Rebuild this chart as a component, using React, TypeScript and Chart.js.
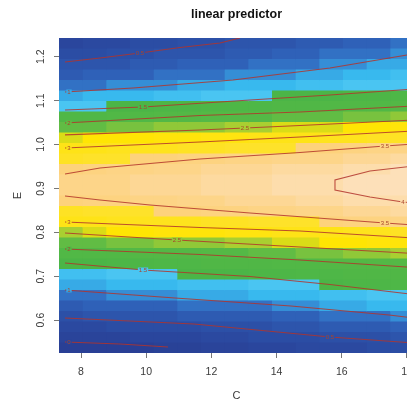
import React, { useEffect, useRef } from "react";
import { Chart, registerables } from "chart.js";
Chart.register(...registerables);

const TITLE = "linear predictor";
const X_LABEL = "C";
const Y_LABEL = "E";
const X_TICKS = [8, 10, 12, 14, 16, 18];
const Y_TICKS = [0.6, 0.7, 0.8, 0.9, 1.0, 1.1, 1.2];
const C_RANGE = [7.325, 18.215];
const E_RANGE = [0.525, 1.2426];

// fitted values: one array per C column (left to right), rows from high E (top) to low E (bottom)
const Z_COLUMNS = [
  [0.21,0.38,0.55,0.72,0.89,1.11,1.40,1.76,2.18,2.61,3.01,3.22,3.43,3.67,3.65,3.41,3.21,3.00,2.53,2.20,1.85,1.49,1.29,1.10,0.91,0.72,0.53,0.32,0.10,-0.12],
  [0.27,0.43,0.60,0.76,0.92,1.15,1.44,1.82,2.23,2.65,3.04,3.26,3.49,3.71,3.69,3.46,3.25,3.03,2.59,2.24,1.89,1.54,1.33,1.13,0.94,0.75,0.56,0.34,0.12,-0.10],
  [0.32,0.48,0.64,0.79,0.95,1.19,1.47,1.87,2.28,2.68,3.06,3.30,3.55,3.74,3.73,3.51,3.28,3.05,2.65,2.27,1.93,1.59,1.36,1.16,0.97,0.77,0.58,0.36,0.14,-0.08],
  [0.37,0.52,0.68,0.83,0.98,1.23,1.52,1.93,2.32,2.73,3.10,3.36,3.61,3.78,3.77,3.58,3.33,3.08,2.70,2.31,1.96,1.64,1.39,1.20,1.00,0.80,0.60,0.39,0.17,-0.06],
  [0.41,0.56,0.71,0.86,1.01,1.27,1.57,1.98,2.36,2.77,3.13,3.41,3.67,3.81,3.80,3.64,3.37,3.10,2.75,2.35,1.99,1.68,1.42,1.23,1.03,0.83,0.62,0.41,0.19,-0.04],
  [0.46,0.60,0.75,0.89,1.06,1.31,1.62,2.03,2.40,2.82,3.17,3.47,3.71,3.84,3.83,3.68,3.42,3.14,2.79,2.40,2.03,1.72,1.46,1.26,1.06,0.86,0.65,0.44,0.23,0.01],
  [0.50,0.64,0.78,0.92,1.10,1.35,1.67,2.07,2.43,2.86,3.21,3.52,3.75,3.86,3.85,3.72,3.47,3.17,2.83,2.44,2.06,1.76,1.49,1.29,1.09,0.89,0.68,0.47,0.27,0.06],
  [0.55,0.69,0.82,0.96,1.15,1.39,1.71,2.10,2.47,2.91,3.25,3.56,3.79,3.89,3.88,3.76,3.52,3.21,2.87,2.49,2.11,1.80,1.54,1.32,1.12,0.92,0.71,0.51,0.31,0.11],
  [0.60,0.73,0.86,0.99,1.20,1.42,1.74,2.13,2.50,2.96,3.29,3.60,3.82,3.92,3.91,3.80,3.57,3.25,2.91,2.54,2.15,1.84,1.58,1.35,1.15,0.94,0.74,0.54,0.35,0.16],
  [0.64,0.77,0.90,1.04,1.24,1.45,1.78,2.16,2.55,3.00,3.34,3.65,3.86,3.96,3.95,3.84,3.62,3.30,2.95,2.59,2.21,1.88,1.63,1.40,1.19,0.98,0.78,0.58,0.39,0.21],
  [0.68,0.81,0.93,1.09,1.28,1.48,1.82,2.19,2.59,3.04,3.38,3.69,3.89,3.99,3.98,3.88,3.66,3.34,2.99,2.64,2.26,1.91,1.67,1.44,1.23,1.02,0.81,0.61,0.42,0.25],
  [0.73,0.85,0.97,1.14,1.32,1.53,1.86,2.23,2.64,3.08,3.44,3.73,3.93,4.02,4.02,3.92,3.71,3.40,3.03,2.68,2.31,1.95,1.72,1.50,1.28,1.07,0.85,0.65,0.46,0.29],
  [0.77,0.89,1.01,1.19,1.36,1.57,1.90,2.27,2.69,3.12,3.49,3.77,3.96,4.05,4.05,3.95,3.75,3.45,3.07,2.72,2.35,1.98,1.76,1.55,1.33,1.11,0.89,0.69,0.49,0.33],
  [0.81,0.93,1.07,1.23,1.40,1.62,1.94,2.32,2.74,3.17,3.55,3.82,4.01,4.10,4.10,4.00,3.80,3.51,3.13,2.77,2.41,2.03,1.80,1.60,1.39,1.17,0.94,0.74,0.54,0.37],
  [0.85,0.97,1.12,1.27,1.43,1.67,1.98,2.36,2.79,3.22,3.60,3.87,4.05,4.14,4.14,4.04,3.85,3.57,3.18,2.81,2.46,2.08,1.84,1.65,1.44,1.22,0.99,0.79,0.58,0.41],
];

// contour lines (C, E points), their labels, and the point where each label sits
const CONTOUR_LABELS = ["0.5", "1", "1.5", "2", "2.5", "3", "3.5", "4", "3.5", "3", "2.5", "2", "1.5", "1", "0.5", "0"];
const CONTOUR_C = [
  [7.509, 8.583, 9.810, 11.037, 12.264, 12.877],
  [7.509, 9.595, 12.663, 15.638, 18.0, 18.215],
  [7.509, 9.902, 13.184, 15.638, 18.215],
  [7.509, 11.650, 14.718, 18.215],
  [7.509, 11.650, 13.031, 14.718, 18.215],
  [7.509, 11.650, 14.718, 18.215],
  [7.509, 8.583, 11.650, 14.718, 17.325, 18.215],
  [18.215, 16.865, 15.791, 15.791, 16.865, 17.877, 18.215],
  [7.509, 8.583, 10.117, 13.184, 17.325, 18.215],
  [7.509, 11.650, 14.718, 18.215],
  [7.509, 10.945, 14.718, 18.215],
  [7.509, 11.650, 14.718, 18.215],
  [7.509, 9.902, 13.184, 15.638, 18.215],
  [7.509, 10.883, 14.442, 17.448, 18.215],
  [7.509, 11.466, 15.638, 18.215],
  [7.509, 9.196, 10.669],
];
const CONTOUR_E = [
  [1.1879, 1.1970, 1.2084, 1.2210, 1.2312, 1.2426],
  [1.1196, 1.1287, 1.1469, 1.1743, 1.2039, 1.2062],
  [1.0786, 1.0854, 1.1014, 1.1128, 1.1264],
  [1.0490, 1.0661, 1.0740, 1.0877],
  [1.0219, 1.0330, 1.0376, 1.0433, 1.0558],
  [0.9920, 1.0057, 1.0171, 1.0308],
  [0.9328, 0.9465, 0.9670, 0.9818, 0.9966, 1.0011],
  [0.9510, 0.9396, 0.9191, 0.8963, 0.8804, 0.8690, 0.8667],
  [0.8827, 0.8736, 0.8622, 0.8440, 0.8212, 0.8167],
  [0.8235, 0.8109, 0.8030, 0.7870],
  [0.7984, 0.7825, 0.7665, 0.7517],
  [0.7620, 0.7494, 0.7369, 0.7198],
  [0.7301, 0.7141, 0.6993, 0.6811, 0.6583],
  [0.6686, 0.6503, 0.6321, 0.6116, 0.6048],
  [0.6048, 0.5911, 0.5615, 0.5478],
  [0.5501, 0.5456, 0.5387],
];
const CONTOUR_LABEL_AT = [2, 0, 1, 0, 2, 0, 4, 5, 4, 0, 1, 0, 1, 0, 2, 0];

const COLOR_STOPS: [number, string][] = [
  [-0.3, "#283b8f"],
  [0.2, "#2a469d"],
  [0.55, "#2c52a9"],
  [0.8, "#2f61b8"],
  [0.95, "#3479ca"],
  [1.05, "#36a3e2"],
  [1.2, "#38b9ee"],
  [1.42, "#4cc6f2"],
  [1.421, "#4ab547"],
  [2.15, "#55b946"],
  [2.3, "#78c23f"],
  [2.55, "#b5d22e"],
  [2.65, "#ffe500"],
  [3.3, "#fee22a"],
  [3.35, "#fdd27a"],
  [3.7, "#fdd589"],
  [3.95, "#fddba6"],
  [4.15, "#fde2c0"],
];

const FONT = "'Liberation Sans', Arial, Helvetica, sans-serif";

function hexToRgb(h: string) {
  const n = parseInt(h.slice(1), 16);
  return [(n >> 16) & 255, (n >> 8) & 255, n & 255];
}

function colorFor(v: number) {
  const q = Math.round(v * 10) / 10;
  if (q <= COLOR_STOPS[0][0]) return COLOR_STOPS[0][1];
  for (let k = 1; k < COLOR_STOPS.length; k++) {
    const [v1, c1] = COLOR_STOPS[k];
    if (q <= v1) {
      const [v0, c0] = COLOR_STOPS[k - 1];
      const t = v1 === v0 ? 1 : (q - v0) / (v1 - v0);
      const a = hexToRgb(c0), b = hexToRgb(c1);
      const r = a.map((x, i) => Math.round(x + (b[i] - x) * t));
      return `rgb(${r[0]},${r[1]},${r[2]})`;
    }
  }
  return COLOR_STOPS[COLOR_STOPS.length - 1][1];
}

function zAt(c: number, e: number) {
  const nCol = Z_COLUMNS.length, nRow = Z_COLUMNS[0].length;
  const dc = (C_RANGE[1] - C_RANGE[0]) / nCol;
  const de = (E_RANGE[1] - E_RANGE[0]) / nRow;
  const j = Math.min(nCol - 1, Math.max(0, Math.floor((c - C_RANGE[0]) / dc)));
  const i = Math.min(nRow - 1, Math.max(0, Math.floor((E_RANGE[1] - e) / de)));
  return Z_COLUMNS[j][i];
}

const heatmapPlugin = {
  id: "heatmap",
  beforeDatasetsDraw(chart: any) {
    const { ctx, chartArea, scales } = chart;
    const xs = scales.x, ys = scales.y;
    const nCol = Z_COLUMNS.length, nRow = Z_COLUMNS[0].length;
    const dc = (C_RANGE[1] - C_RANGE[0]) / nCol;
    const de = (E_RANGE[1] - E_RANGE[0]) / nRow;
    ctx.save();
    ctx.beginPath();
    ctx.rect(chartArea.left, chartArea.top, chartArea.right - chartArea.left, chartArea.bottom - chartArea.top);
    ctx.clip();
    for (let j = 0; j < nCol; j++) {
      for (let i = 0; i < nRow; i++) {
        const x0 = xs.getPixelForValue(C_RANGE[0] + j * dc);
        const x1 = xs.getPixelForValue(C_RANGE[0] + (j + 1) * dc);
        const y0 = ys.getPixelForValue(E_RANGE[1] - i * de);
        const y1 = ys.getPixelForValue(E_RANGE[1] - (i + 1) * de);
        ctx.fillStyle = colorFor(Z_COLUMNS[j][i]);
        ctx.fillRect(x0, y0, x1 - x0 + 0.7, y1 - y0 + 0.7);
      }
    }
    ctx.restore();
  },
  afterDatasetsDraw(chart: any) {
    const { ctx, scales, chartArea } = chart;
    ctx.save();
    ctx.beginPath();
    ctx.rect(chartArea.left, chartArea.top, chartArea.right - chartArea.left, chartArea.bottom - chartArea.top);
    ctx.clip();
    ctx.font = `6px ${FONT}`;
    ctx.textAlign = "center";
    ctx.textBaseline = "middle";
    CONTOUR_LABELS.forEach((lab, k) => {
      const idx = CONTOUR_LABEL_AT[k];
      const c = CONTOUR_C[k][idx], e = CONTOUR_E[k][idx];
      let px = scales.x.getPixelForValue(c);
      const py = scales.y.getPixelForValue(e);
      if (idx === 0) px += 4;
      const w = ctx.measureText(lab).width + 2;
      ctx.fillStyle = colorFor(zAt(c, e));
      ctx.fillRect(px - w / 2, py - 2.5, w, 5);
      ctx.fillStyle = "#a8442c";
      ctx.fillText(lab, px, py + 0.5);
    });
    ctx.restore();
  },
  afterDraw(chart: any) {
    const { ctx } = chart;
    ctx.save();
    ctx.font = `bold 12.5px ${FONT}`;
    ctx.fillStyle = "#111";
    ctx.textAlign = "center";
    ctx.textBaseline = "middle";
    ctx.fillText(TITLE, 236.5, 14.5);
    ctx.restore();
  },
};

export default function App() {
  const ref = useRef<HTMLCanvasElement | null>(null);
  useEffect(() => {
    if (!ref.current) return;
    Chart.defaults.font.family = FONT;
    const datasets = CONTOUR_C.map((cs, k) => ({
      label: CONTOUR_LABELS[k],
      data: cs.map((c, i) => ({ x: c, y: CONTOUR_E[k][i] })),
      showLine: true,
      borderColor: "rgba(178,52,44,0.85)",
      borderWidth: 1.1,
      pointRadius: 0,
      fill: false,
      tension: 0,
    }));
    const chart = new Chart(ref.current, {
      type: "scatter",
      data: { datasets },
      options: {
        animation: false,
        responsive: false,
        devicePixelRatio: 1,
        layout: { padding: { left: 0, right: 26, top: 38, bottom: 0 } },
        plugins: { legend: { display: false }, tooltip: { enabled: false }, title: { display: false } },
        scales: {
          x: {
            type: "linear",
            min: C_RANGE[0],
            max: C_RANGE[1],
            afterBuildTicks: (s: any) => { s.ticks = X_TICKS.map((v) => ({ value: v })); },
            afterFit: (s: any) => { s.height = 50; },
            ticks: { font: { size: 10.5 }, color: "#3a3a3a", padding: 8, callback: (v: any) => String(v), maxRotation: 0 },
            grid: { display: true, drawOnChartArea: false, drawTicks: true, tickLength: 5, color: "#777" },
            border: { display: false },
            title: { display: true, text: X_LABEL, font: { size: 11 }, color: "#3a3a3a", padding: { top: 0, bottom: 0 } },
          },
          y: {
            type: "linear",
            min: E_RANGE[0],
            max: E_RANGE[1],
            afterBuildTicks: (s: any) => { s.ticks = Y_TICKS.map((v) => ({ value: v })); },
            afterFit: (s: any) => { s.width = 59; },
            ticks: { font: { size: 10.5 }, color: "#3a3a3a", padding: 6, minRotation: 90, maxRotation: 90, crossAlign: "center", callback: (v: any) => Number(v).toFixed(1) },
            grid: { display: true, drawOnChartArea: false, drawTicks: true, tickLength: 5, color: "#777" },
            border: { display: false },
            title: { display: true, text: Y_LABEL, font: { size: 11 }, color: "#3a3a3a", padding: { top: 11, bottom: 0 } },
          },
        },
      },
      plugins: [heatmapPlugin],
    } as any);
    return () => chart.destroy();
  }, []);
  return (
    <div style={{ position: "fixed", left: 0, top: 0, width: 407, height: 403, overflow: "hidden", background: "#fff" }}>
      <canvas ref={ref} width={440} height={403} style={{ width: 440, height: 403, display: "block" }} />
    </div>
  );
}
